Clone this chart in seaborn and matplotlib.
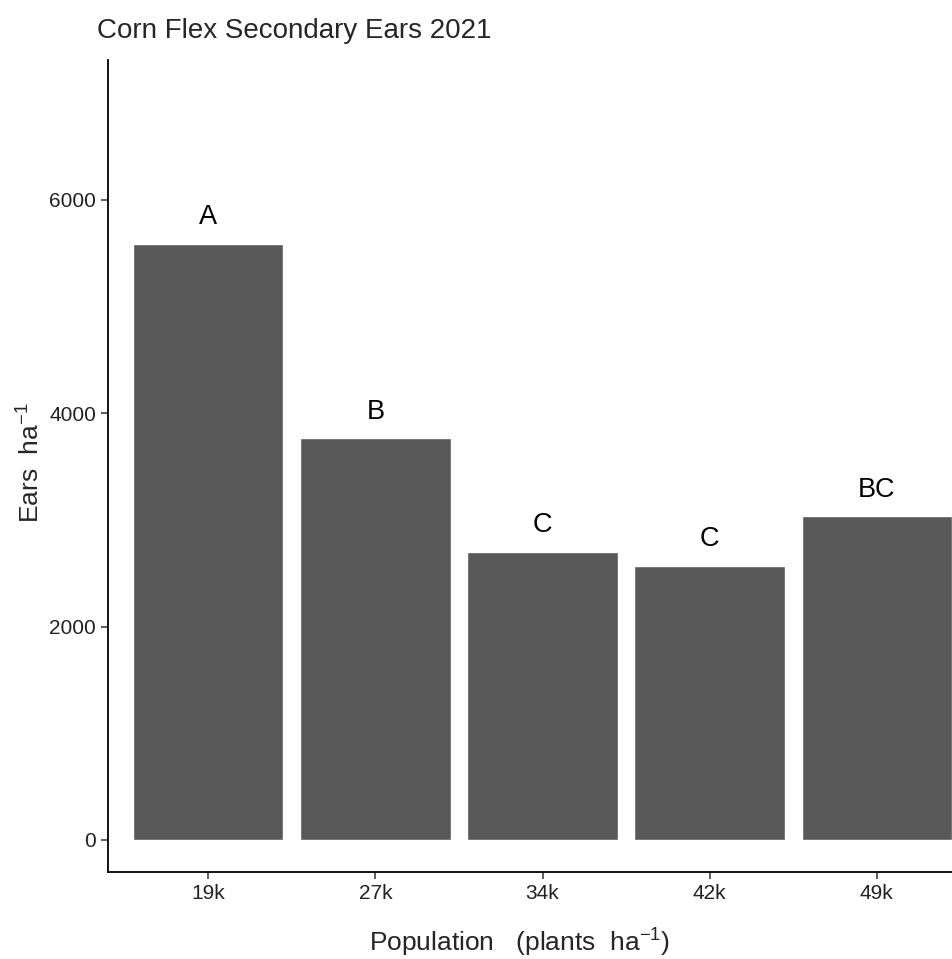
# libraries and data
import matplotlib
matplotlib.use("Agg")
import matplotlib.pyplot as plt
import pandas as pd
import seaborn as sns

population = ["19k", "27k", "34k", "42k", "49k"]
ears = [5590, 3765, 2700, 2570, 3035]
letters = ["A", "B", "C", "C", "BC"]

df = pd.DataFrame({"Population": population, "Ears": ears})

sns.set_style("ticks")
plt.rcParams['font.family'] = ['Liberation Sans', 'DejaVu Sans']
plt.rcParams['mathtext.fontset'] = 'custom'
plt.rcParams['mathtext.rm'] = 'Liberation Sans'

fig = plt.figure(figsize=(9.53, 9.59), dpi=100)
# axes run a bit past the right edge, like the cropped original
ax = fig.add_axes([108 / 953, 1 - 872 / 959, 869 / 953, 812 / 959])

sns.barplot(data=df, x="Population", y="Ears", color="#595959",
            saturation=1, width=0.9, ax=ax)

# significance letters above bars
for i, (v, lab) in enumerate(zip(ears, letters)):
    ax.text(i, v + 250, lab, ha="center", va="center", fontsize=19.5, color="black")

ax.set_xlim(-0.6, 4.6)
ax.set_ylim(-300, 7312)
ax.set_yticks([0, 2000, 4000, 6000])
ax.set_xlabel("")
ax.set_ylabel("")
ax.tick_params(axis="both", labelsize=15, labelcolor="#222222",
               color="#333333", length=5, width=1.1)

sns.despine(ax=ax)
for s in ["left", "bottom"]:
    ax.spines[s].set_linewidth(1.3)
    ax.spines[s].set_color("black")

fig.text(97 / 953, 1 - 38 / 959, "Corn Flex Secondary Ears 2021",
         fontsize=20, ha="left", va="baseline")
fig.text(520 / 953, 1 - 942 / 959, "Population   (plants  ha$^{-1}$)",
         fontsize=19, ha="center", va="center")
fig.text(30 / 953, 1 - 463 / 959, "Ears  ha$^{-1}$",
         fontsize=19, ha="center", va="center", rotation=90)

fig.savefig("out.png", dpi=100)
